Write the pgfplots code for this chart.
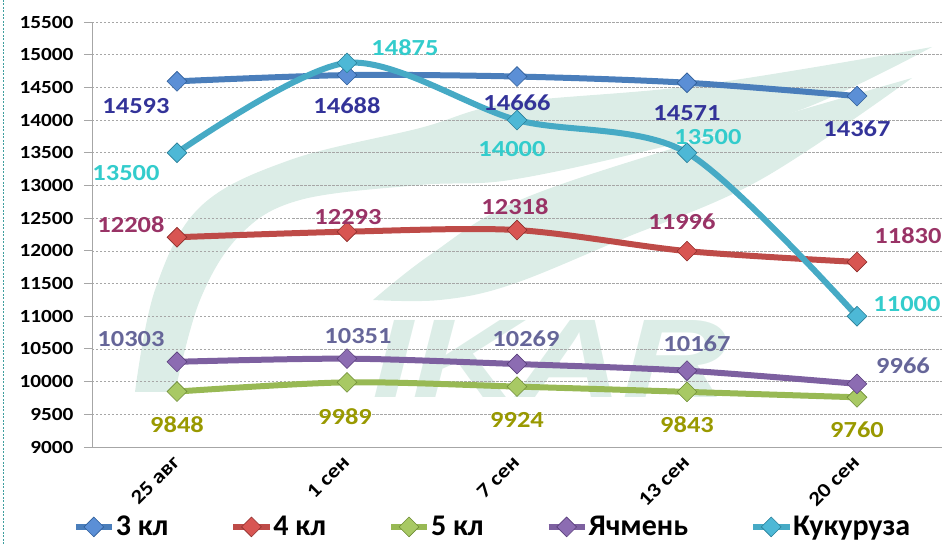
\documentclass[border=0pt]{standalone}
\usepackage{pgfplots}
\pgfplotsset{compat=1.18}
\usepackage{pgfplotstable}
\usepackage{fontspec}
\setmainfont{Carlito}[FakeStretch=1.15]
\newfontfamily\legfont{Carlito}
\newfontfamily\wmfont{Liberation Sans}

\definecolor{lA}{HTML}{4A7EBB}\definecolor{fA}{HTML}{5B8FD6}\definecolor{dA}{HTML}{2F5E99}\definecolor{tA}{HTML}{333399}
\definecolor{lB}{HTML}{BE4B48}\definecolor{fB}{HTML}{D85552}\definecolor{dB}{HTML}{8E2E2C}\definecolor{tB}{HTML}{993366}
\definecolor{lC}{HTML}{98B954}\definecolor{fC}{HTML}{A8C964}\definecolor{dC}{HTML}{6E8C36}\definecolor{tC}{HTML}{999900}
\definecolor{lD}{HTML}{7D60A0}\definecolor{fD}{HTML}{8C6CB2}\definecolor{dD}{HTML}{5A3F7C}\definecolor{tD}{HTML}{666699}
\definecolor{lE}{HTML}{46AAC5}\definecolor{fE}{HTML}{4DB8D6}\definecolor{dE}{HTML}{2A7F98}\definecolor{tE}{HTML}{33CCCC}
\definecolor{wm}{HTML}{DCEDE7}
\definecolor{gridc}{HTML}{A6A6A6}
\definecolor{border}{HTML}{3F9F9F}

\pgfplotstableread{
x y dx dy
0 14593 -41 -25
1 14688 0 -31
2 14666 0 -26
3 14571 0 -30
4 14367 0 -33
}\tA
\pgfplotstableread{
x y dx dy
0 12208 -46 13
1 12293 1 15
2 12318 -2 23
3 11996 -5 29
4 11830 51 26
}\tB
\pgfplotstableread{
x y dx dy
0 9848 0 -33
1 9989 -2 -34
2 9924 0 -33
3 9843 0 -33
4 9760 0 -32
}\tC
\pgfplotstableread{
x y dx dy
0 10303 -46 23
1 10351 11 23
2 10269 9 25
3 10167 10 27
4 9966 46 18
}\tD
\pgfplotstableread{
x y dx dy
0 13500 -51 -20
1 14875 58 15
2 14000 -5 -29
3 13500 21 16
4 11000 50 12
}\tE

\newcommand\lblfont{\fontsize{23bp}{25bp}\selectfont\bfseries}

\begin{document}
\begin{tikzpicture}
\useasboundingbox (-92bp,-97bp) rectangle (859bp,447bp);
% left dashed border
\draw[border, line width=0.8bp, dash pattern=on 2bp off 1.5bp] (-89bp,447bp) -- (-89bp,-97bp);
% watermark
\fill[wm] plot[smooth, tension=0.6] coordinates {(43bp,55bp) (63bp,157bp) (108bp,240bp) (198bp,287bp) (328bp,319bp) (418bp,344bp) (608bp,362bp) (840bp,400bp)}
  -- plot[smooth, tension=0.6] coordinates {(840bp,400bp) (708bp,337bp) (558bp,297bp) (418bp,267bp) (328bp,262bp) (208bp,247bp) (148bp,212bp) (108bp,147bp) (83bp,55bp)} -- cycle;
\fill[wm] plot[smooth, tension=0.6] coordinates {(281bp,147bp) (338bp,192bp) (428bp,247bp) (608bp,307bp) (820bp,369bp)}
  -- plot[smooth, tension=0.6] coordinates {(820bp,369bp) (668bp,267bp) (528bp,207bp) (418bp,162bp) (348bp,147bp) (281bp,147bp)} -- cycle;
\node[wm, font=\wmfont\bfseries\itshape\fontsize{112bp}{112bp}\selectfont, xscale=1.3, inner sep=0pt] at (458bp,88bp) {IKAR};

\begin{axis}[
  at={(0,0)}, anchor=south west,
  scale only axis, width=850bp, height=425bp,
  xmin=-0.5, xmax=4.5, ymin=9000, ymax=15500,
  clip=false,
  axis x line*=bottom, axis y line*=left,
  axis line style={gridc, line width=0.9bp},
  ytick={9000,9500,...,15500},
  scaled y ticks=false,
  xtick={0,1,2,3,4},
  xticklabels={25 авг,1 сен,7 сен,13 сен,20 сен},
  x tick style={draw=none},
  extra x ticks={-0.5,0.5,1.5,2.5,3.5,4.5},
  extra x tick labels={},
  extra x tick style={tick style={draw=gridc, line width=0.9bp}},
  tick align=outside,
  major tick length=8bp,
  y tick style={draw=gridc, line width=0.9bp},
  ymajorgrids, grid style={gridc, line width=0.6bp, dash pattern=on 2.5bp off 1.5bp},
  y tick label style={font=\fontsize{18.5bp}{20bp}\selectfont\bfseries, /pgf/number format/1000 sep={}, /pgf/number format/assume math mode=true, xshift=-7bp},
  x tick label style={font=\fontsize{20bp}{22bp}\selectfont\bfseries, rotate=45, anchor=east, yshift=-2bp},
  every axis plot/.append style={line width=6bp, smooth},
  mark size=7bp,
  lab/.style={
    nodes near coords,
    point meta=explicit symbolic,
    visualization depends on={\thisrow{dx}\as\dx},
    visualization depends on={\thisrow{dy}\as\dy},
    nodes near coords align={center},
    every node near coord/.append style={anchor=center, xshift=\dx bp, yshift=\dy bp, font=\lblfont, text=#1, inner sep=0pt},
  },
  legend columns=5,
  legend style={draw=none, fill=none, at={(0.4706,-0.188)}, anchor=center,
    font=\legfont\fontsize{30bp}{32bp}\selectfont\bfseries,
    /tikz/every even column/.append style={column sep=61bp},
    nodes={inner sep=1bp}},
  legend image code/.code={\draw[mark repeat=2,mark phase=2,#1] plot coordinates {(0bp,0bp) (18bp,0bp) (36bp,0bp)};},
]
\addplot[lA, lab=tA, mark=square*, mark options={rotate=45, fill=fA, draw=dA, line width=0.6bp}]
  table[x=x, y=y, meta=y] {\tA};
\addlegendentry{3 кл}
\addplot[lB, lab=tB, mark=square*, mark options={rotate=45, fill=fB, draw=dB, line width=0.6bp}]
  table[x=x, y=y, meta=y] {\tB};
\addlegendentry{4 кл}
\addplot[lC, lab=tC, mark=square*, mark options={rotate=45, fill=fC, draw=dC, line width=0.6bp}]
  table[x=x, y=y, meta=y] {\tC};
\addlegendentry{5 кл}
\addplot[lD, lab=tD, mark=square*, mark options={rotate=45, fill=fD, draw=dD, line width=0.6bp}]
  table[x=x, y=y, meta=y] {\tD};
\addlegendentry{Ячмень}
\addplot[lE, lab=tE, mark=square*, mark options={rotate=45, fill=fE, draw=dE, line width=0.6bp}]
  table[x=x, y=y, meta=y] {\tE};
\addlegendentry{Кукуруза}
\end{axis}
\end{tikzpicture}
\end{document}
